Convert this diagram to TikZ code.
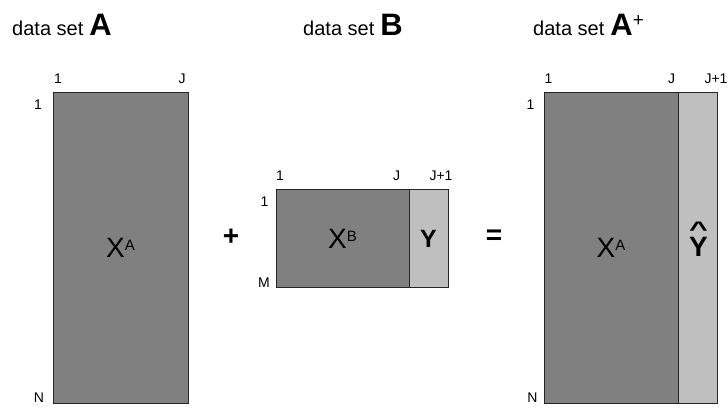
\documentclass[tikz,border=0pt]{standalone}
\usepackage{fontspec}
\setmainfont{Liberation Sans}
\begin{document}
\begin{tikzpicture}[x=1pt,y=-1pt,
  mat/.style={draw=black!85,line width=1pt,fill=black!50,rectangle,inner sep=0pt,outer sep=0pt,anchor=north west},
  ycol/.style={draw=black!85,line width=1pt,fill=black!25,rectangle,inner sep=0pt,outer sep=0pt,anchor=north west},
  lbl/.style={inner sep=0pt,anchor=base,font=\fontsize{14}{16}\selectfont},
  ttl/.style={inner sep=0pt,anchor=base west,font=\fontsize{20}{24}\selectfont},
  big/.style={inner sep=0pt,font=\fontsize{28}{30}\selectfont},
  op/.style={inner sep=0pt,font=\fontsize{28}{30}\selectfont\bfseries}]
\newcommand{\setletter}[1]{\hspace{6pt}{\fontsize{31}{31}\selectfont\bfseries #1}}
\useasboundingbox (0,0) rectangle (728,407);
% titles
\node[ttl] (tA) at (12,35) {data set\setletter{A}};
\node[ttl] (tB) at (303,35) {data set\setletter{B}};
\node[ttl] (tC) at (533,35) {data set\setletter{A}\raisebox{9pt}{\fontsize{19}{20}\selectfont +}};
% left matrix
\node[mat,minimum width=135pt,minimum height=311pt] (XA1) at (53,92) {};
\node[big,anchor=base] (XA1t) at (120.5,257) {X\raisebox{7pt}{\fontsize{15}{16}\selectfont A}};
\node[lbl] (l1c) at (58,83) {1};
\node[lbl] (l1J) at (182,83) {J};
\node[lbl] (l1r) at (38,109) {1};
\node[lbl] (l1N) at (39,402) {N};
% plus
\node[op] (plus) at (231,237) {+};
% middle matrix
\node[mat,minimum width=133pt,minimum height=98pt] (XB) at (276,189) {};
\node[ycol,minimum width=39pt,minimum height=98pt] (YB) at (409,189) {};
\node[big,anchor=base] (XBt) at (342.5,248) {X\raisebox{7pt}{\fontsize{15}{16}\selectfont B}};
\node[inner sep=0pt,anchor=base,font=\fontsize{25}{26}\selectfont\bfseries] (YBt) at (428.5,247) {Y};
\node[lbl] (l2c) at (280,180) {1};
\node[lbl] (l2J) at (396.5,180) {J};
\node[lbl] (l2J1) at (441,180) {J+1};
\node[lbl] (l2r) at (264.5,206) {1};
\node[lbl] (l2M) at (264,287) {M};
% equals
\node[op] (eq) at (494,237) {=};
% right matrix
\node[mat,minimum width=134pt,minimum height=311pt] (XA2) at (544,92) {};
\node[ycol,minimum width=39pt,minimum height=311pt] (Yh) at (678,92) {};
\node[big,anchor=base] (XA2t) at (611,257) {X\raisebox{7pt}{\fontsize{15}{16}\selectfont A}};
\node[inner sep=0pt,anchor=south,align=center,font=\fontsize{28}{20}\selectfont\bfseries] (Yht) at (698.5,257) {\scalebox{1.15}[0.75]{\textasciicircum}\\Y};
\node[lbl] (l3c) at (548.5,83) {1};
\node[lbl] (l3J) at (671.5,83) {J};
\node[lbl] (l3J1) at (716,83) {J+1};
\node[lbl] (l3r) at (530.5,109) {1};
\node[lbl] (l3N) at (532.5,402) {N};
\end{tikzpicture}
\end{document}
